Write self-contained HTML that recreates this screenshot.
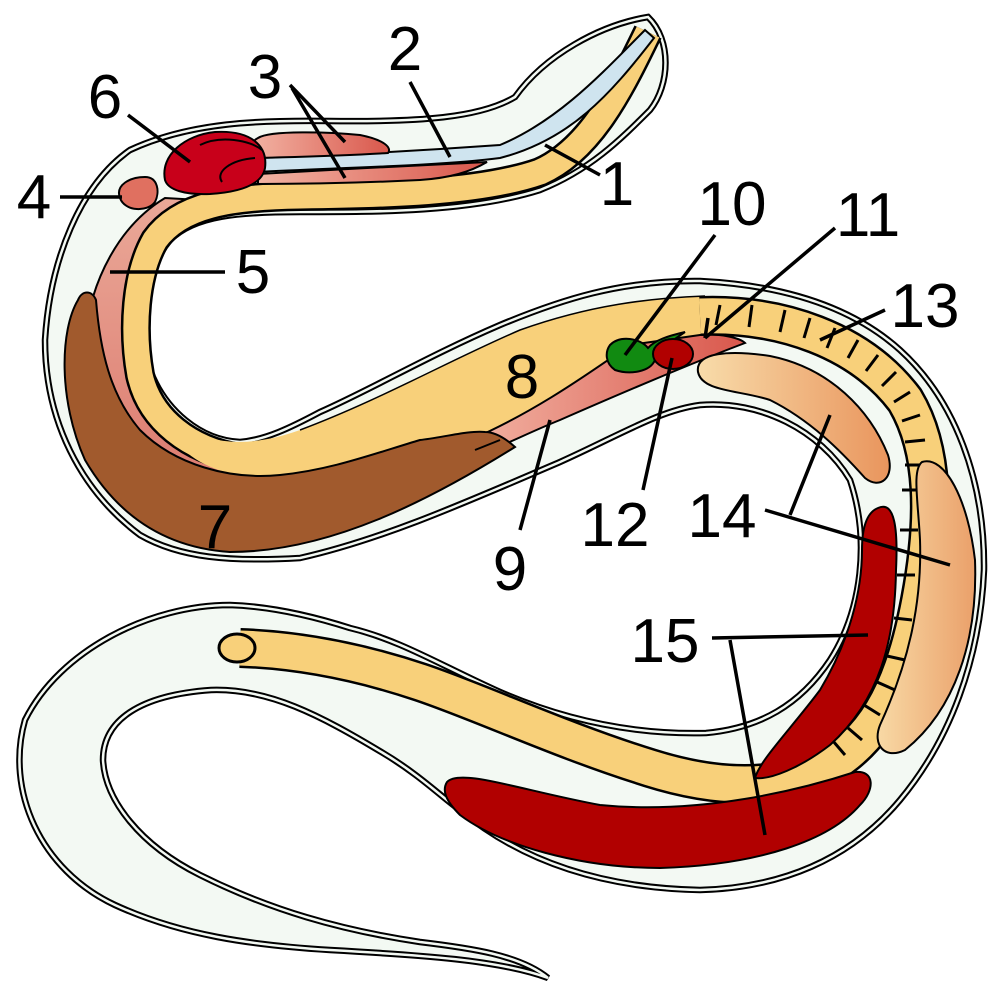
<!DOCTYPE html>
<html><head><meta charset="utf-8"><style>
html,body{margin:0;padding:0;background:#fff;}
svg{display:block}
text{font-family:"Liberation Sans",sans-serif;font-size:62px;fill:#000;}
</style></head><body>
<svg width="1000" height="988" viewBox="0 0 1000 988" xmlns="http://www.w3.org/2000/svg">
<defs>
<linearGradient id="pk" x1="0" x2="1" y1="0" y2="0"><stop offset="0" stop-color="#f2b3a3"/><stop offset="1" stop-color="#d9574c"/></linearGradient>
<linearGradient id="pk2" x1="0" x2="0" y1="0" y2="1"><stop offset="0" stop-color="#eaa898"/><stop offset="1" stop-color="#dc7a6e"/></linearGradient>
<linearGradient id="or" x1="0" x2="1" y1="0" y2="0"><stop offset="0" stop-color="#f8dcaa"/><stop offset="1" stop-color="#e9955d"/></linearGradient>
<linearGradient id="or2" x1="0" x2="1" y1="0" y2="0"><stop offset="0" stop-color="#f8d9a5"/><stop offset="1" stop-color="#eaa06a"/></linearGradient>
</defs>

<!-- body -->
<path d="M648,17 C600,25 545,55 515,97 C480,118 420,122 330,121 C260,120 190,122 130,150 C80,185 50,260 45,340 C45,420 80,490 140,535 C180,558 230,562 300,558 C380,540 460,505 560,462 C620,435 660,410 700,405 C760,400 820,430 850,480 C870,540 862,610 830,660 C800,705 760,728 706,733 C630,735 560,718 500,692 C440,665 400,640 350,628 C300,612 260,606 230,605 C150,605 60,650 25,720 C5,790 40,870 115,905 C180,935 250,945 330,950 C420,955 500,960 548,978 C520,955 470,948 420,942 C340,930 270,910 200,875 C140,845 105,800 103,760 C103,720 140,695 211,690 C268,688 320,715 383,753 C420,775 445,800 460,810 C520,860 600,888 700,890 C780,888 850,860 900,800 C950,740 980,660 984,570 C985,480 955,400 900,350 C850,305 780,285 700,281 C620,280 560,300 500,325 C430,355 370,390 320,412 C290,428 265,440 240,442 C200,440 165,410 150,370 C138,320 145,270 170,240 C195,215 240,212 300,212 C380,212 470,212 540,190 C590,170 620,140 650,110 C670,85 672,40 648,17 Z" fill="#f3f9f3" stroke="#000" stroke-width="6.5"/>
<path d="M648,17 C600,25 545,55 515,97 C480,118 420,122 330,121 C260,120 190,122 130,150 C80,185 50,260 45,340 C45,420 80,490 140,535 C180,558 230,562 300,558 C380,540 460,505 560,462 C620,435 660,410 700,405 C760,400 820,430 850,480 C870,540 862,610 830,660 C800,705 760,728 706,733 C630,735 560,718 500,692 C440,665 400,640 350,628 C300,612 260,606 230,605 C150,605 60,650 25,720 C5,790 40,870 115,905 C180,935 250,945 330,950 C420,955 500,960 548,978 C520,955 470,948 420,942 C340,930 270,910 200,875 C140,845 105,800 103,760 C103,720 140,695 211,690 C268,688 320,715 383,753 C420,775 445,800 460,810 C520,860 600,888 700,890 C780,888 850,860 900,800 C950,740 980,660 984,570 C985,480 955,400 900,350 C850,305 780,285 700,281 C620,280 560,300 500,325 C430,355 370,390 320,412 C290,428 265,440 240,442 C200,440 165,410 150,370 C138,320 145,270 170,240 C195,215 240,212 300,212 C380,212 470,212 540,190 C590,170 620,140 650,110 C670,85 672,40 648,17 Z" fill="none" stroke="#f3f9f3" stroke-width="2.5"/>

<!-- pink 5 band -->
<path d="M165,198 C120,225 90,280 85,340 C85,410 120,460 180,490 C250,505 330,490 400,470 L420,455 C340,470 260,470 210,450 C160,420 125,370 125,320 C125,260 150,220 200,200 Z" fill="url(#pk2)" stroke="#000" stroke-width="2"/>

<!-- yellow upper band + left curve -->
<path d="M648,32 C620,90 590,150 540,172 C480,193 380,195 300,196 C230,197 180,205 155,240 C135,275 132,330 140,375 C150,420 190,450 240,458" fill="none" stroke="#000" stroke-width="30"/>
<path d="M648,32 C620,90 590,150 540,172 C480,193 380,195 300,196 C230,197 180,205 155,240 C135,275 132,330 140,375 C150,420 190,450 240,458" fill="none" stroke="#f8d07a" stroke-width="25"/>
<!-- middle yellow region -->
<path d="M185,425 C210,445 250,448 300,430 C380,400 450,360 520,330 C590,305 650,298 705,296 L705,336 C660,345 600,372 540,415 C520,430 505,438 480,438 C420,445 340,470 270,477 C220,478 190,460 175,440 Z" fill="#f8d07a"/>
<path d="M300,430 C380,400 450,360 520,330 C590,305 650,298 705,296" fill="none" stroke="#000" stroke-width="1.5"/>

<!-- red 9 -->
<path d="M470,440 C540,410 600,365 630,345 L700,335 C720,333 740,338 745,343 C700,360 640,385 560,420 C530,432 505,445 490,450 Z" fill="url(#pk)" stroke="#000" stroke-width="2"/>

<!-- brown 7 -->
<path d="M78,300 C60,330 58,400 85,460 C120,520 170,548 230,552 C330,552 430,500 515,447 C505,438 495,432 485,432 C470,430 440,438 420,440 C370,455 330,470 280,475 C230,480 175,465 140,430 C110,395 100,350 96,300 C92,290 82,290 78,300 Z" fill="#a15a2d" stroke="#000" stroke-width="2"/>
<path d="M475,450 L500,440" stroke="#000" stroke-width="2"/>

<!-- right loop + lower yellow band -->
<path d="M700,316 C780,313 860,340 905,400 C935,450 935,520 920,600 C905,680 880,735 830,765 C780,790 720,790 650,768 C560,740 480,702 420,682 C360,662 300,650 240,648" fill="none" stroke="#000" stroke-width="40"/>
<path d="M700,316 C780,313 860,340 905,400 C935,450 935,520 920,600 C905,680 880,735 830,765 C780,790 720,790 650,768 C560,740 480,702 420,682 C360,662 300,650 240,648" fill="none" stroke="#f8d07a" stroke-width="35"/>
<ellipse cx="237" cy="648" rx="18" ry="14" fill="#f8d07a" stroke="#000" stroke-width="3"/>

<!-- ticks -->
<g stroke="#000" stroke-width="3" fill="none">
<path d="M720,305 l-4,20"/><path d="M752,305 l-3,22"/><path d="M785,310 l-5,22"/><path d="M810,318 l-6,20"/><path d="M835,328 l-8,20"/><path d="M858,340 l-10,18"/><path d="M878,355 l-12,16"/><path d="M896,372 l-14,14"/><path d="M910,392 l-16,10"/><path d="M920,415 l-18,6"/><path d="M925,440 l-20,2"/><path d="M925,465 l-20,0"/><path d="M920,490 l-18,0"/><path d="M918,530 l-18,0"/><path d="M915,575 l-18,0"/><path d="M912,620 l-18,-2"/><path d="M905,660 l-18,-4"/><path d="M895,690 l-18,-8"/><path d="M880,715 l-16,-10"/><path d="M862,740 l-14,-12"/><path d="M845,755 l-12,-14"/>
</g>

<!-- orange organs 14 -->
<path d="M698,372 C695,352 730,350 770,356 C830,368 870,410 888,455 C895,478 880,490 865,478 C840,450 810,420 770,400 C740,390 702,392 698,372 Z" fill="url(#or)" stroke="#000" stroke-width="2"/>
<path d="M922,462 C945,455 968,500 975,560 C978,640 955,710 905,750 C885,760 872,745 880,725 C910,660 922,600 920,540 C918,500 912,470 922,462 Z" fill="url(#or2)" stroke="#000" stroke-width="2"/>

<!-- red 15 -->
<path d="M878,508 C895,500 898,530 896,570 C895,640 880,700 830,745 C800,768 770,780 755,778 C760,760 790,730 820,690 C850,640 862,590 862,550 C862,525 868,512 878,508 Z" fill="#b10000" stroke="#000" stroke-width="2"/>
<path d="M447,782 C460,768 520,790 600,805 C700,815 800,790 855,772 C875,770 875,790 860,805 C830,840 760,865 660,868 C580,868 500,845 460,815 C445,800 442,790 447,782 Z" fill="#b10000" stroke="#000" stroke-width="2"/>

<!-- head organs -->
<path d="M645,30 L654,38 C610,95 570,140 500,158 C440,166 330,168 258,172 L258,158 C340,155 430,150 500,145 C560,120 605,70 645,30 Z" fill="#cfe4ef" stroke="#000" stroke-width="2"/>
<path d="M258,174 C330,170 420,165 487,162 C470,172 450,178 420,180 C360,183 300,184 258,184 Z" fill="url(#pk)" stroke="#000" stroke-width="2"/>
<path d="M258,138 C270,130 330,132 360,135 C385,140 392,148 388,153 C340,156 290,157 258,158 C250,150 250,142 258,138 Z" fill="url(#pk)" stroke="#000" stroke-width="2"/>
<path d="M165,180 C160,155 185,135 215,132 C250,130 268,145 265,168 C262,185 240,192 210,194 C185,195 168,190 165,180 Z" fill="#c8001a" stroke="#000" stroke-width="2"/>
<path d="M200,145 C220,135 250,140 262,150 M222,182 C215,172 230,160 255,158" fill="none" stroke="#000" stroke-width="2"/>
<path d="M120,198 C115,185 130,177 145,177 C158,177 160,192 155,202 C148,212 125,212 120,198 Z" fill="#e07060" stroke="#000" stroke-width="2"/>

<!-- green 10 and red 12 -->
<path d="M610,345 C620,335 640,338 648,348 C655,340 668,336 685,332 C670,342 660,350 655,360 C650,372 630,375 615,370 C605,363 605,352 610,345 Z" fill="#118a11" stroke="#000" stroke-width="2"/>
<ellipse cx="673" cy="354" rx="20" ry="15" fill="#b10000" stroke="#000" stroke-width="2"/>

<!-- leader lines -->
<g stroke="#000" stroke-width="3.5" fill="none">
<path d="M545,145 L600,175"/>
<path d="M410,82 L450,157"/>
<path d="M290,85 L345,142 M292,88 L345,178"/>
<path d="M60,197 L122,197"/>
<path d="M110,272 L225,272"/>
<path d="M128,115 L190,162"/>
<path d="M550,420 L520,530"/>
<path d="M715,235 L625,355"/>
<path d="M835,228 L705,338 M705,338 L708,318"/>
<path d="M885,310 L820,340"/>
<path d="M672,358 L643,490"/>
<path d="M765,510 L950,565 M790,515 L830,415"/>
<path d="M712,638 L868,635 M730,640 L765,835"/>
</g>

<!-- labels -->
<text x="617" y="205" text-anchor="middle">1</text>
<text x="405" y="70" text-anchor="middle">2</text>
<text x="265" y="98" text-anchor="middle">3</text>
<text x="34" y="218" text-anchor="middle">4</text>
<text x="253" y="293" text-anchor="middle">5</text>
<text x="105" y="118" text-anchor="middle">6</text>
<text x="215" y="548" text-anchor="middle">7</text>
<text x="522" y="398" text-anchor="middle">8</text>
<text x="510" y="590" text-anchor="middle">9</text>
<text x="732" y="225" text-anchor="middle">10</text>
<text x="868" y="236" text-anchor="middle">11</text>
<text x="615" y="546" text-anchor="middle">12</text>
<text x="925" y="327" text-anchor="middle">13</text>
<text x="722" y="537" text-anchor="middle">14</text>
<text x="665" y="662" text-anchor="middle">15</text>
</svg>
</body></html>
